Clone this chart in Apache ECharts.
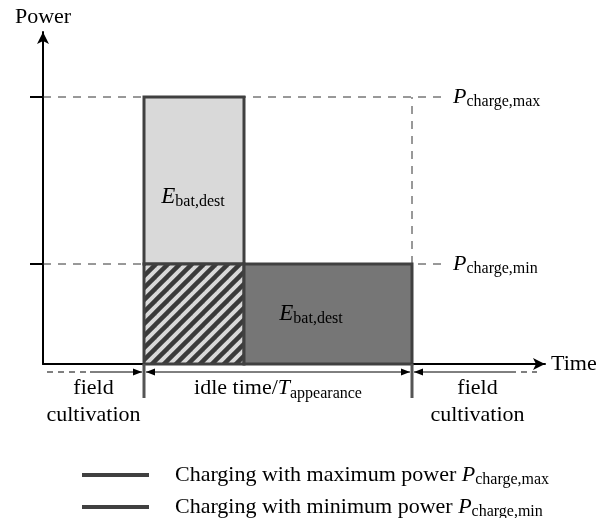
<!DOCTYPE html>
<html>
<head>
<meta charset="utf-8">
<script src="https://cdn.jsdelivr.net/npm/echarts@6/dist/echarts.min.js"></script>
<style>
html, body { margin: 0; padding: 0; background: #fff; }
#chart { width: 614px; height: 518px; }
</style>
</head>
<body>
<div id="chart"></div>
<script>
// time points and power levels (sketch units)
var tArrive = 1.01, tMaxEnd = 2.01, tLeave = 3.69, tEnd = 5.0;
var pMin = 1.0, pMax = 2.67;
var guideEnd = 4.04;

// phases along the time axis
var phaseStart = [0, tArrive, tLeave];
var phaseEnd = [tArrive, tLeave, tEnd];
var phaseLabels = ['field\ncultivation', 'idle time/{i|T}{s|appearance}', 'field\ncultivation'];

// energy blocks: max-power part, overlap (hatched), min-power part
var blockX0 = [tArrive, tArrive, tMaxEnd];
var blockX1 = [tMaxEnd, tMaxEnd, tLeave];
var blockY0 = [pMin, 0, 0];
var blockY1 = [pMax, pMin, pMin];

// E_bat,dest label anchors
var energyLabelX = [1.50, 2.68];
var energyLabelY = [1.67, 0.50];

var legendNames = ['max', 'min'];
var legendTexts = {
    max: '{t|Charging with maximum power }{p|P}{s|charge,max}',
    min: '{t|Charging with minimum power }{p|P}{s|charge,min}'
};

var SERIF = '"Liberation Serif", "DejaVu Serif", serif';
var richText = {
    t: {fontFamily: SERIF, fontSize: 22, color: '#000', lineHeight: 26},
    p: {fontFamily: SERIF, fontSize: 22, fontStyle: 'italic', color: '#000', lineHeight: 26},
    i: {fontFamily: SERIF, fontSize: 22, fontStyle: 'italic', color: '#000', lineHeight: 26},
    e: {fontFamily: SERIF, fontSize: 23, fontStyle: 'italic', color: '#000', lineHeight: 26},
    s: {fontFamily: SERIF, fontSize: 16, color: '#000', lineHeight: 16, verticalAlign: 'bottom'}
};

function makeHatch() {
    var s = 12;
    var c = document.createElement('canvas');
    c.width = s;
    c.height = s;
    var ctx = c.getContext('2d');
    ctx.fillStyle = '#d9d9d9';
    ctx.fillRect(0, 0, s, s);
    ctx.strokeStyle = '#3a3a3a';
    ctx.lineWidth = 4.5;
    for (var k = -1; k <= 1; k++) {
        ctx.beginPath();
        ctx.moveTo(k * s - 3, s + 3);
        ctx.lineTo(k * s + s + 3, -3);
        ctx.stroke();
    }
    return c;
}
var blockFills = ['#d9d9d9', {image: makeHatch(), repeat: 'repeat'}, '#767676'];

var blockData = [];
for (var b = 0; b < blockX0.length; b++) {
    blockData.push([blockX0[b], blockX1[b], blockY0[b], blockY1[b]]);
}
var energyData = [];
for (var e = 0; e < energyLabelX.length; e++) {
    energyData.push([energyLabelX[e], energyLabelY[e]]);
}

function arrowHead(x, y, dir) {
    return {
        type: 'polygon',
        shape: {points: [[x, y], [x - dir * 9, y - 3.5], [x - dir * 9, y + 3.5]]},
        style: {fill: '#000'}
    };
}
function seg(x1, y1, x2, y2, dashed, color, width) {
    return {
        type: 'line',
        shape: {x1: x1, y1: y1, x2: x2, y2: y2},
        style: {stroke: color || '#000', lineWidth: width || 1, lineDash: dashed ? [6, 5] : null}
    };
}

function renderDims(params, api) {
    var yLine = api.coord([0, -0.08])[1];
    var yBar0 = api.coord([0, 0])[1];
    var yBar1 = api.coord([0, -0.34])[1];
    var children = [];
    var n = phaseStart.length;
    for (var i = 0; i < n; i++) {
        var xa = api.coord([phaseStart[i], 0])[0];
        var xb = api.coord([phaseEnd[i], 0])[0];
        if (i === 0) {
            children.push(seg(xa + 4, yLine, xa + 47, yLine, true));
            children.push(seg(xa + 47, yLine, xb - 2, yLine));
        } else if (i === n - 1) {
            children.push(seg(xa + 2, yLine, xb - 33, yLine));
            children.push(seg(xb - 33, yLine, xb - 6, yLine, true));
        } else {
            children.push(seg(xa + 2, yLine, xb - 2, yLine));
        }
        if (i > 0) children.push(arrowHead(xa + 2, yLine, -1));
        if (i < n - 1) children.push(arrowHead(xb - 2, yLine, 1));
        children.push({
            type: 'text',
            x: (xa + xb) / 2,
            y: yLine + 3,
            style: {
                text: phaseLabels[i],
                rich: richText,
                fontFamily: SERIF, fontSize: 22, lineHeight: 27, fill: '#000',
                align: 'center', verticalAlign: 'top'
            }
        });
    }
    [tArrive, tLeave].forEach(function (t) {
        var x = api.coord([t, 0])[0];
        children.push(seg(x, yBar0, x, yBar1, false, '#555', 3));
    });
    return {type: 'group', children: children};
}

var chart = echarts.init(document.getElementById('chart'));
var guideStyle = {type: [8, 7], color: '#333', width: 1};
var option = {
    animation: false,
    grid: {left: 43, right: 69, top: 32, bottom: 154},
    legend: {
        data: legendNames,
        orient: 'vertical',
        left: 77,
        top: 459,
        height: 80,
        itemWidth: 67,
        itemHeight: 4,
        itemGap: 8,
        icon: 'rect',
        formatter: function (name) { return legendTexts[name]; },
        textStyle: {padding: [0, 0, 0, 21], rich: richText}
    },
    xAxis: {
        type: 'value', min: 0, max: 5.02,
        name: 'Time', nameLocation: 'end', nameGap: 6,
        nameTextStyle: {fontFamily: SERIF, fontSize: 22, color: '#000'},
        axisLine: {show: true, onZero: false, symbol: ['none', 'arrow'], symbolSize: [9, 12],
            lineStyle: {color: '#000', width: 2}},
        axisTick: {show: false}, axisLabel: {show: false}, splitLine: {show: false}
    },
    yAxis: {
        type: 'value', min: 0, max: 3.32,
        name: 'Power', nameLocation: 'end', nameGap: 4,
        nameTextStyle: {fontFamily: SERIF, fontSize: 22, color: '#000'},
        axisLine: {show: true, symbol: ['none', 'arrow'], symbolSize: [9, 12],
            lineStyle: {color: '#000', width: 2}},
        axisTick: {show: true, customValues: [pMin, pMax], length: 13,
            lineStyle: {color: '#000', width: 2}},
        axisLabel: {show: false}, splitLine: {show: false}
    },
    series: [
        {
            type: 'line', z: 1, symbol: 'none', silent: true,
            data: [[0, pMax], [guideEnd, pMax]], lineStyle: guideStyle,
            endLabel: {show: true, distance: 6, formatter: '{p|P}{s|charge,max}', rich: richText}
        },
        {
            type: 'line', z: 1, symbol: 'none', silent: true,
            data: [[0, pMin], [guideEnd, pMin]], lineStyle: guideStyle,
            endLabel: {show: true, distance: 6, formatter: '{p|P}{s|charge,min}', rich: richText}
        },
        {
            type: 'line', z: 1, symbol: 'none', silent: true,
            data: [[tLeave, pMin], [tLeave, pMax]], lineStyle: guideStyle
        },
        {
            type: 'custom', z: 3, silent: true,
            data: blockData,
            renderItem: function (params, api) {
                var p0 = api.coord([api.value(0), api.value(3)]);
                var p1 = api.coord([api.value(1), api.value(2)]);
                return {
                    type: 'rect',
                    shape: {x: p0[0], y: p0[1], width: p1[0] - p0[0], height: p1[1] - p0[1]},
                    style: {fill: blockFills[params.dataIndex], stroke: '#404040', lineWidth: 3}
                };
            }
        },
        {
            type: 'custom', z: 4, silent: true,
            data: energyData,
            renderItem: function (params, api) {
                var pt = api.coord([api.value(0), api.value(1)]);
                return {
                    type: 'text', x: pt[0], y: pt[1],
                    style: {text: '{e|E}{s|bat,dest}', rich: richText, align: 'center', verticalAlign: 'middle'}
                };
            }
        },
        {
            type: 'custom', z: 4, silent: true,
            data: [0],
            renderItem: renderDims
        },
        {name: 'max', type: 'line', data: [], color: '#404040'},
        {name: 'min', type: 'line', data: [], color: '#404040'}
    ]
};
chart.setOption(option);
</script>
</body>
</html>
